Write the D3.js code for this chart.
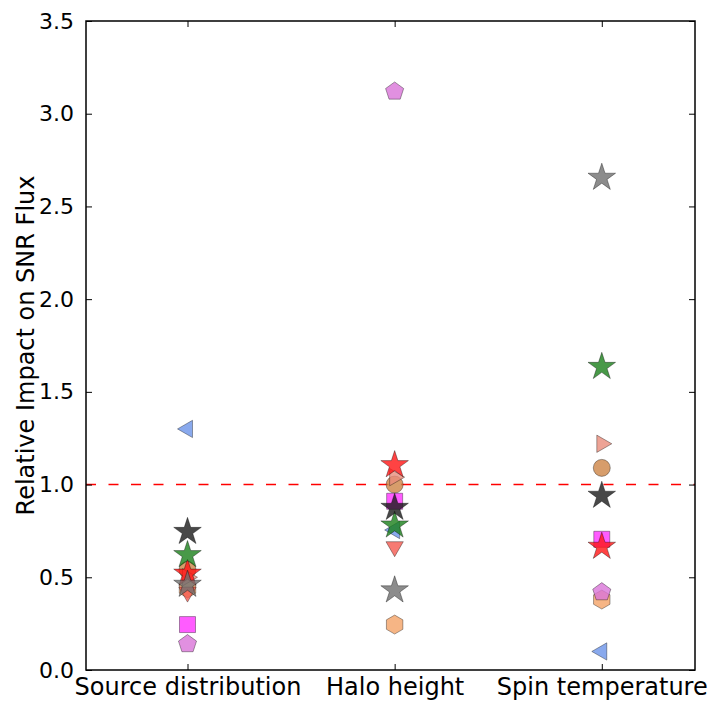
<!DOCTYPE html>
<html>
<head>
<meta charset="utf-8">
<script src="https://cdn.jsdelivr.net/npm/d3@7"></script>
<style>
  html, body { margin: 0; padding: 0; background: #fff; }
  text { font-family: "DejaVu Sans", sans-serif; fill: #000; }
</style>
</head>
<body>
<svg id="chart" width="712" height="702"></svg>
<script>
// Categories on the x axis
const categories = ["Source distribution", "Halo height", "Spin temperature"];
const yTicks = [0.0, 0.5, 1.0, 1.5, 2.0, 2.5, 3.0, 3.5];

// One series per marker; values per category (null = not shown)
const hexagonVals   = [0.44, 0.245, 0.38];
const circleVals    = [0.54, 1.00, 1.09];
const rightTriVals  = [0.50, 1.04, 1.22];
const downTriVals   = [0.42, 0.665, null];
const leftTriVals   = [1.30, 0.755, 0.10];
const squareVals    = [0.245, 0.91, 0.705];
const pentagonVals  = [0.14, 3.12, 0.42];
const redStarVals   = [0.52, 1.105, 0.665];
const grayStarVals  = [0.46, 0.43, 2.655];
const greenStarVals = [0.62, 0.78, 1.635];
const blackStarVals = [0.745, 0.875, 0.94];
const referenceLevel = 1.0;

const series = [
  { values: hexagonVals,   shape: "hexagon",  color: "#f4a266", r: 9.5 },
  { values: circleVals,    shape: "circle",   color: "#cd8446", r: 8.5 },
  { values: rightTriVals,  shape: "triRight", color: "#e98c7a", r: 10 },
  { values: downTriVals,   shape: "triDown",  color: "#f45a50", r: 10 },
  { values: leftTriVals,   shape: "triLeft",  color: "#6b93e8", r: 10 },
  { values: squareVals,    shape: "square",   color: "#ff33ff", r: 8 },
  { values: pentagonVals,  shape: "pentagon", color: "#da74d8", r: 9.5 },
  { values: redStarVals,   shape: "star",     color: "#ff1414", r: 14.5 },
  { values: grayStarVals,  shape: "star",     color: "#6f6f6f", r: 14.5 },
  { values: greenStarVals, shape: "star",     color: "#1a801a", r: 14.5 },
  { values: blackStarVals, shape: "star",     color: "#1a1a1a", r: 14.5 }
];

const width = 712, height = 702;
const margin = { left: 86, right: 17, top: 21, bottom: 32 };
const svg = d3.select("#chart");

const x = d3.scaleLinear().domain([-0.49, 2.45]).range([margin.left, width - margin.right]);
const y = d3.scaleLinear().domain([0, 3.5]).range([height - margin.bottom, margin.top]);

// Custom symbol types: "size" is used as the marker radius
function polygonType(n, rotation) {
  return {
    draw(ctx, r) {
      for (let i = 0; i < n; i++) {
        const a = rotation + i * 2 * Math.PI / n;
        const px = r * Math.cos(a), py = r * Math.sin(a);
        if (i === 0) ctx.moveTo(px, py); else ctx.lineTo(px, py);
      }
      ctx.closePath();
    }
  };
}
const starType = {
  draw(ctx, r) {
    const ri = r * 0.381966;
    for (let i = 0; i < 10; i++) {
      const a = -Math.PI / 2 + i * Math.PI / 5;
      const rr = i % 2 === 0 ? r : ri;
      const px = rr * Math.cos(a), py = rr * Math.sin(a);
      if (i === 0) ctx.moveTo(px, py); else ctx.lineTo(px, py);
    }
    ctx.closePath();
  }
};
const circleType = { draw(ctx, r) { ctx.moveTo(r, 0); ctx.arc(0, 0, r, 0, 2 * Math.PI); } };
const squareType = { draw(ctx, r) { ctx.rect(-r, -r, 2 * r, 2 * r); } };

const shapes = {
  hexagon: polygonType(6, -Math.PI / 2),
  pentagon: polygonType(5, -Math.PI / 2),
  triRight: polygonType(3, 0),
  triLeft: polygonType(3, Math.PI),
  triDown: polygonType(3, Math.PI / 2),
  circle: circleType,
  square: squareType,
  star: starType
};

const plot = svg.append("g");
const clipId = "plot-clip";
svg.append("defs").append("clipPath").attr("id", clipId)
  .append("rect")
  .attr("x", margin.left).attr("y", margin.top)
  .attr("width", width - margin.left - margin.right)
  .attr("height", height - margin.top - margin.bottom);

// Reference line
plot.append("line")
  .attr("x1", x.range()[0]).attr("x2", x.range()[1])
  .attr("y1", y(referenceLevel)).attr("y2", y(referenceLevel))
  .attr("stroke", "#ff0000").attr("stroke-width", 1.6)
  .attr("stroke-dasharray", "10,12.5");

// Markers
const markerLayer = plot.append("g").attr("clip-path", `url(#${clipId})`);
series.forEach(s => {
  const pts = s.values.map((v, i) => ({ v, i })).filter(d => d.v !== null);
  markerLayer.selectAll(null)
    .data(pts)
    .enter()
    .append("path")
    .attr("transform", d => `translate(${x(d.i)},${y(d.v)})`)
    .attr("d", d3.symbol().type(shapes[s.shape]).size(s.r))
    .attr("fill", s.color)
    .attr("fill-opacity", 0.8)
    .attr("stroke", "#000")
    .attr("stroke-opacity", 0.35)
    .attr("stroke-width", 1);
});

// Axes: ticks point inward on all four sides
const tickLen = 6;
const xTickVals = categories.map((c, i) => i);
const axBottom = d3.axisBottom(x).tickValues(xTickVals).tickSize(-tickLen).tickPadding(8)
  .tickFormat(i => categories[i]);
const axTop = d3.axisTop(x).tickValues(xTickVals).tickSize(-tickLen).tickFormat("");
const axLeft = d3.axisLeft(y).tickValues(yTicks).tickSize(-tickLen).tickPadding(12)
  .tickFormat(d3.format(".1f"));
const axRight = d3.axisRight(y).tickValues(yTicks).tickSize(-tickLen).tickFormat("");

function styleAxis(size) {
  return g => {
    g.select(".domain").remove();
    g.selectAll(".tick line").attr("stroke", "#000").attr("stroke-width", 1);
    g.selectAll(".tick text").style("font-family", "DejaVu Sans, sans-serif")
      .style("font-size", size + "px").attr("fill", "#000");
  };
}

svg.append("g").attr("transform", `translate(0,${y.range()[0]})`).call(axBottom).call(styleAxis(24))
  .selectAll(".tick text").attr("dy", "0.71em");
svg.append("g").attr("transform", `translate(0,${y.range()[1]})`).call(axTop).call(styleAxis(24));
svg.append("g").attr("transform", `translate(${x.range()[0]},0)`).call(axLeft).call(styleAxis(22));
svg.append("g").attr("transform", `translate(${x.range()[1]},0)`).call(axRight).call(styleAxis(22));

// Plot border
svg.append("rect")
  .attr("x", x.range()[0]).attr("y", y.range()[1])
  .attr("width", x.range()[1] - x.range()[0])
  .attr("height", y.range()[0] - y.range()[1])
  .attr("fill", "none").attr("stroke", "#000").attr("stroke-width", 1.5);

// Y axis title
svg.append("text")
  .attr("transform", `translate(34,${(y.range()[0] + y.range()[1]) / 2}) rotate(-90)`)
  .attr("text-anchor", "middle")
  .style("font-size", "24px")
  .text("Relative Impact on SNR Flux");
</script>
</body>
</html>
